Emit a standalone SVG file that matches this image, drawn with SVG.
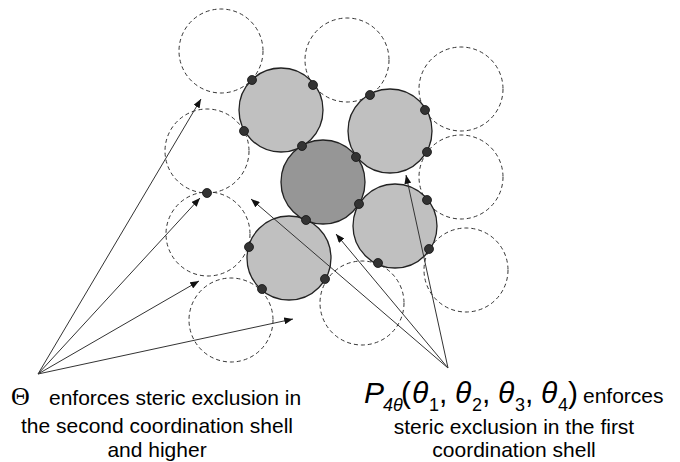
<svg xmlns="http://www.w3.org/2000/svg" width="680" height="462" viewBox="0 0 680 462">
<defs>
<style>
.dash{fill:none;stroke:#333;stroke-width:1;stroke-dasharray:4 3}
.gray{fill:#c0c0c0;stroke:#222;stroke-width:1.3}
.dark{fill:#969696;stroke:#222;stroke-width:1.3}
.dot{fill:#333;stroke:#111;stroke-width:0.8}
.arr{fill:none;stroke:#333;stroke-width:1;marker-end:url(#ah)}
.t{font-family:"Liberation Sans",Arial,sans-serif;font-size:21px;fill:#000}
.m{font-family:"Liberation Sans",Arial,sans-serif;font-size:30px;fill:#000}
.s{font-family:"Liberation Sans",Arial,sans-serif;font-size:18px;fill:#000}
.i{font-style:italic}
</style>
<marker id="ah" viewBox="0 0 10 8" refX="10" refY="4" markerWidth="9" markerHeight="7" markerUnits="userSpaceOnUse" orient="auto">
<path d="M0,0 L10,4 L0,8 z" fill="#111"/>
</marker>
</defs>
<rect width="680" height="462" fill="#fff"/>
<g id="shell2">
<g id="s2a"><circle class="dash" cx="221" cy="51" r="42"/></g>
<g id="s2b"><circle class="dash" cx="347" cy="60" r="42"/></g>
<g id="s2c"><circle class="dash" cx="207" cy="151" r="42"/></g>
<g id="s2d"><circle class="dash" cx="208" cy="234" r="42"/></g>
<g id="s2e"><circle class="dash" cx="231" cy="320" r="42"/></g>
<g id="s2f"><circle class="dash" cx="362" cy="303" r="42"/></g>
<g id="s2g"><circle class="dash" cx="461" cy="89" r="42"/></g>
<g id="s2h"><circle class="dash" cx="461" cy="177" r="42"/></g>
<g id="s2i"><circle class="dash" cx="466" cy="270" r="42"/></g>
</g>
<g id="shell1">
<g id="s1a"><circle class="gray" cx="281" cy="110" r="42"/></g>
<g id="s1b"><circle class="gray" cx="390" cy="131" r="42"/></g>
<g id="s1c"><circle class="gray" cx="289" cy="258" r="42"/></g>
<g id="s1d"><circle class="gray" cx="395" cy="226" r="42"/></g>
</g>
<g id="center"><circle class="dark" cx="323" cy="182" r="42"/></g>
<g id="contacts">
<circle class="dot" cx="252" cy="80" r="4.5"/>
<circle class="dot" cx="313" cy="85" r="4.5"/>
<circle class="dot" cx="244" cy="131" r="4.5"/>
<circle class="dot" cx="302" cy="146" r="4.5"/>
<circle class="dot" cx="370" cy="95" r="4.5"/>
<circle class="dot" cx="425" cy="110" r="4.5"/>
<circle class="dot" cx="427" cy="152" r="4.5"/>
<circle class="dot" cx="356" cy="157" r="4.5"/>
<circle class="dot" cx="207" cy="193" r="4.5"/>
<circle class="dot" cx="359" cy="204" r="4.5"/>
<circle class="dot" cx="306" cy="220" r="4.5"/>
<circle class="dot" cx="427" cy="200" r="4.5"/>
<circle class="dot" cx="429" cy="249" r="4.5"/>
<circle class="dot" cx="378" cy="263" r="4.5"/>
<circle class="dot" cx="249" cy="247" r="4.5"/>
<circle class="dot" cx="325" cy="279" r="4.5"/>
<circle class="dot" cx="262" cy="289" r="4.5"/>
</g>
<g id="connectors">
<line class="arr" x1="38" y1="374" x2="201" y2="99"/>
<line class="arr" x1="38" y1="374" x2="200" y2="198"/>
<line class="arr" x1="38" y1="374" x2="199" y2="281"/>
<line class="arr" x1="38" y1="374" x2="293" y2="319"/>
<line class="arr" x1="448" y1="368" x2="251" y2="199"/>
<line class="arr" x1="448" y1="368" x2="336" y2="234"/>
<line class="arr" x1="448" y1="368" x2="406" y2="175"/>
</g>
<g id="label-left">
<text x="11" y="405" style="font-family:'Liberation Serif','Times New Roman',serif;font-size:26px">Θ</text>
<text class="t" x="49" y="405">enforces steric exclusion in</text>
<text class="t" x="157" y="433" text-anchor="middle">the second coordination shell</text>
<text class="t" x="157" y="457" text-anchor="middle">and higher</text>
</g>
<g id="label-right">
<text class="m i" x="364" y="403">P</text>
<text class="s i" x="383" y="411">4θ</text>
<text class="m" x="401" y="403">(</text>
<text class="m i" x="412" y="403">θ</text><text class="s" x="429" y="411">1</text><text class="m" x="439" y="403">,</text>
<text class="m i" x="455" y="403">θ</text><text class="s" x="472" y="411">2</text><text class="m" x="482" y="403">,</text>
<text class="m i" x="498" y="403">θ</text><text class="s" x="515" y="411">3</text><text class="m" x="525" y="403">,</text>
<text class="m i" x="541" y="403">θ</text><text class="s" x="558" y="411">4</text>
<text class="m" x="568" y="403">)</text>
<text class="t" x="583" y="403">enforces</text>
<text class="t" x="514" y="434" text-anchor="middle">steric exclusion in the first</text>
<text class="t" x="514" y="457" text-anchor="middle">coordination shell</text>
</g>
</svg>
